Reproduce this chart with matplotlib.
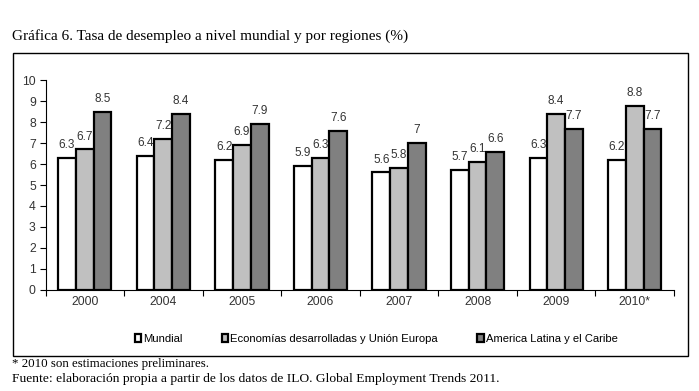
import matplotlib
matplotlib.use("Agg")
import matplotlib.pyplot as plt
import numpy as np
from matplotlib.patches import Rectangle

categories = ["2000", "2004", "2005", "2006", "2007", "2008", "2009", "2010*"]
mundial = [6.3, 6.4, 6.2, 5.9, 5.6, 5.7, 6.3, 6.2]
desarrolladas = [6.7, 7.2, 6.9, 6.3, 5.8, 6.1, 8.4, 8.8]
america_latina = [8.5, 8.4, 7.9, 7.6, 7.0, 6.6, 7.7, 7.7]
series_names = ["Mundial", "Economías desarrolladas y Unión Europa", "America Latina y el Caribe"]
y_ticks = list(range(0, 11))

sans = ["Liberation Sans", "DejaVu Sans"]
serif = ["Liberation Serif", "DejaVu Serif"]

W, H = 699, 391
fig = plt.figure(figsize=(W / 100, H / 100), dpi=100)
fig.patch.set_facecolor("white")

# outer frame
fig.patches.append(Rectangle((12.5 / W, 1 - 355.5 / H), (688 - 12.5) / W, (355.5 - 53) / H,
                             transform=fig.transFigure, fill=False, edgecolor="black",
                             linewidth=1.0, zorder=0))

ax = fig.add_axes([45.5 / W, 1 - 289.5 / H, (674 - 45.5) / W, (289.5 - 80.5) / H])

x = np.arange(len(categories))
bw = 0.226
colors = ["#ffffff", "#c0c0c0", "#808080"]
data = [mundial, desarrolladas, america_latina]
for i, (vals, c, name) in enumerate(zip(data, colors, series_names)):
    bars = ax.bar(x + (i - 1) * bw, vals, bw, color=c, edgecolor="black", linewidth=1.6,
                  label=name, zorder=3)
    labels = [("%g" % v) for v in vals]
    ax.bar_label(bars, labels=labels, padding=5, fontsize=8.5, family=sans, color="#333333")

ax.set_xlim(-0.5, len(categories) - 0.5)
ax.set_ylim(0, 10)
ax.set_yticks(y_ticks)
ax.set_yticklabels([str(t) for t in y_ticks], family=sans, fontsize=8.7, color="#333333")
ax.set_xticks(x)
ax.set_xticklabels(categories, family=sans, fontsize=8.7, color="#333333")
ax.set_xticks(np.arange(len(categories) + 1) - 0.5, minor=True)
ax.tick_params(axis="x", which="major", length=0, pad=5)
ax.tick_params(axis="x", which="minor", length=4, width=0.8, direction="out")
ax.tick_params(axis="y", length=4, width=0.8, direction="out", pad=3)
for s in ["top", "right"]:
    ax.spines[s].set_visible(False)
for s in ["left", "bottom"]:
    ax.spines[s].set_linewidth(0.8)

leg = fig.legend(loc="center", bbox_to_anchor=(376 / W, 1 - 339 / H), ncol=3, frameon=False,
                 prop={"family": sans, "size": 8.1}, handlelength=0.6, handleheight=0.6,
                 handletextpad=0.15, columnspacing=3.5)
for p in leg.get_patches():
    p.set_linewidth(1.6)

fig.text(12 / W, 1 - 36 / H, "Gráfica 6. Tasa de desempleo a nivel mundial y por regiones (%)",
         family=serif, fontsize=11, va="center", ha="left")
fig.text(12 / W, 1 - 364 / H, "* 2010 son estimaciones preliminares.",
         family=serif, fontsize=9.3, va="center", ha="left")
fig.text(12 / W, 1 - 379 / H, "Fuente: elaboración propia a partir de los datos de ILO. Global Employment Trends 2011.",
         family=serif, fontsize=9.7, va="center", ha="left")

fig.savefig("out.png", dpi=100)
